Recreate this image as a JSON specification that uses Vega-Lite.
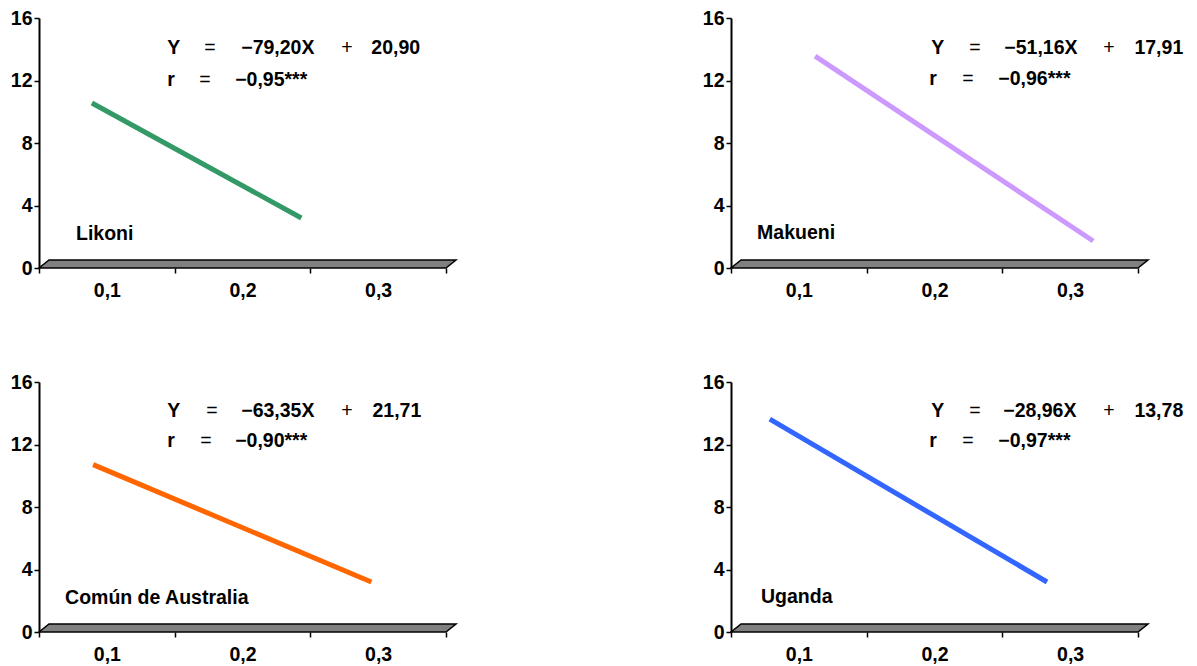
{
  "$schema": "https://vega.github.io/schema/vega-lite/v6.json",
  "background": "white",
  "padding": {"left": 10, "top": 8, "right": 5, "bottom": 5},
  "datasets": {
    "floor": [
      {"x": 0.05, "y": 0, "ytop": 0},
      {"x": 0.0574, "y": 0, "ytop": 0.512},
      {"x": 0.35, "y": 0, "ytop": 0.512},
      {"x": 0.3574, "y": 0.512, "ytop": 0.512}
    ],
    "lines": [
      {"panel": "Likoni", "x": 0.089, "y": 10.56},
      {"panel": "Likoni", "x": 0.2434, "y": 3.2},
      {"panel": "Makueni", "x": 0.112, "y": 13.56},
      {"panel": "Makueni", "x": 0.317, "y": 1.73},
      {"panel": "Australia", "x": 0.0899, "y": 10.71},
      {"panel": "Australia", "x": 0.295, "y": 3.2},
      {"panel": "Uganda", "x": 0.0786, "y": 13.62},
      {"panel": "Uganda", "x": 0.283, "y": 3.2}
    ],
    "labels": [
      {"panel": "Likoni", "kind": "b", "x": 0.1445, "y": 13.7, "text": "Y"},
      {"panel": "Likoni", "kind": "o", "x": 0.1718, "y": 13.7, "text": "="},
      {"panel": "Likoni", "kind": "b", "x": 0.1991, "y": 13.7, "text": "−79,20X"},
      {"panel": "Likoni", "kind": "o", "x": 0.2729, "y": 13.7, "text": "+"},
      {"panel": "Likoni", "kind": "b", "x": 0.295, "y": 13.7, "text": "20,90"},
      {"panel": "Likoni", "kind": "b", "x": 0.1445, "y": 11.65, "text": "r"},
      {"panel": "Likoni", "kind": "o", "x": 0.1681, "y": 11.65, "text": "="},
      {"panel": "Likoni", "kind": "b", "x": 0.1946, "y": 11.65, "text": "−0,95***"},
      {"panel": "Likoni", "kind": "b", "x": 0.0773, "y": 1.8, "text": "Likoni"},
      {"panel": "Makueni", "kind": "b", "x": 0.1976, "y": 13.7, "text": "Y"},
      {"panel": "Makueni", "kind": "o", "x": 0.2256, "y": 13.7, "text": "="},
      {"panel": "Makueni", "kind": "b", "x": 0.2515, "y": 13.7, "text": "−51,16X"},
      {"panel": "Makueni", "kind": "o", "x": 0.3245, "y": 13.7, "text": "+"},
      {"panel": "Makueni", "kind": "b", "x": 0.3474, "y": 13.7, "text": "17,91"},
      {"panel": "Makueni", "kind": "b", "x": 0.1961, "y": 11.71, "text": "r"},
      {"panel": "Makueni", "kind": "o", "x": 0.2205, "y": 11.71, "text": "="},
      {"panel": "Makueni", "kind": "b", "x": 0.2471, "y": 11.71, "text": "−0,96***"},
      {"panel": "Makueni", "kind": "b", "x": 0.0692, "y": 1.85, "text": "Makueni"},
      {"panel": "Australia", "kind": "b", "x": 0.1445, "y": 13.75, "text": "Y"},
      {"panel": "Australia", "kind": "o", "x": 0.1732, "y": 13.75, "text": "="},
      {"panel": "Australia", "kind": "b", "x": 0.1991, "y": 13.75, "text": "−63,35X"},
      {"panel": "Australia", "kind": "o", "x": 0.2729, "y": 13.75, "text": "+"},
      {"panel": "Australia", "kind": "b", "x": 0.2958, "y": 13.75, "text": "21,71"},
      {"panel": "Australia", "kind": "b", "x": 0.1445, "y": 11.82, "text": "r"},
      {"panel": "Australia", "kind": "o", "x": 0.1688, "y": 11.82, "text": "="},
      {"panel": "Australia", "kind": "b", "x": 0.1946, "y": 11.82, "text": "−0,90***"},
      {"panel": "Australia", "kind": "b", "x": 0.0692, "y": 1.8, "text": "Común de Australia"},
      {"panel": "Uganda", "kind": "b", "x": 0.1976, "y": 13.75, "text": "Y"},
      {"panel": "Uganda", "kind": "o", "x": 0.2256, "y": 13.75, "text": "="},
      {"panel": "Uganda", "kind": "b", "x": 0.2507, "y": 13.75, "text": "−28,96X"},
      {"panel": "Uganda", "kind": "o", "x": 0.3245, "y": 13.75, "text": "+"},
      {"panel": "Uganda", "kind": "b", "x": 0.3474, "y": 13.75, "text": "13,78"},
      {"panel": "Uganda", "kind": "b", "x": 0.1961, "y": 11.82, "text": "r"},
      {"panel": "Uganda", "kind": "o", "x": 0.2205, "y": 11.82, "text": "="},
      {"panel": "Uganda", "kind": "b", "x": 0.2471, "y": 11.82, "text": "−0,97***"},
      {"panel": "Uganda", "kind": "b", "x": 0.0721, "y": 1.86, "text": "Uganda"}
    ]
  },
  "columns": 2,
  "spacing": {"row": 114, "column": 275},
  "bounds": "flush",
  "concat": [
    {
      "width": 417, "height": 250,
      "encoding": {
        "x": {"field": "x", "type": "quantitative", "scale": {"domain": [0.05, 0.3574], "nice": false, "zero": false},
          "axis": {"values": [0.05, 0.1, 0.15, 0.2, 0.25, 0.3, 0.35], "domain": false, "tickSize": 5, "tickWidth": 1.5, "tickColor": "black",
            "tickOpacity": {"condition": {"test": "datum.value == 0.1 || datum.value == 0.2 || datum.value == 0.3", "value": 0}, "value": 1},
            "labelExpr": "datum.value == 0.1 ? '0,1' : datum.value == 0.2 ? '0,2' : datum.value == 0.3 ? '0,3' : ''", "labelPadding": 8, "labelBaseline": "top"}},
        "y": {"field": "y", "type": "quantitative", "scale": {"domain": [0, 16], "nice": false},
          "axis": {"values": [0, 4, 8, 12, 16], "domainColor": "black", "domainWidth": 2, "tickColor": "black", "tickWidth": 1.5, "tickSize": 5, "labelPadding": 2}}
      },
      "layer": [
        {"data": {"name": "floor"}, "mark": {"type": "area", "color": "#808080", "stroke": "black", "strokeWidth": 1.5}, "encoding": {"y2": {"field": "ytop"}}},
        {"data": {"name": "lines"}, "transform": [{"filter": "datum.panel == 'Likoni'"}], "mark": {"type": "line", "color": "#339966", "strokeWidth": 5}},
        {"data": {"name": "labels"}, "transform": [{"filter": "datum.panel == 'Likoni' && datum.kind == 'b'"}], "mark": {"type": "text", "align": "left", "baseline": "alphabetic", "font": "Liberation Sans", "fontWeight": "bold", "fontSize": 19.5, "color": "black"}, "encoding": {"text": {"field": "text"}}},
        {"data": {"name": "labels"}, "transform": [{"filter": "datum.panel == 'Likoni' && datum.kind == 'o'"}], "mark": {"type": "text", "align": "left", "baseline": "alphabetic", "font": "Liberation Sans", "fontWeight": "normal", "fontSize": 19.5, "color": "black"}, "encoding": {"text": {"field": "text"}}}
      ]
    },
    {
      "width": 417, "height": 250,
      "encoding": {
        "x": {"field": "x", "type": "quantitative", "scale": {"domain": [0.05, 0.3574], "nice": false, "zero": false},
          "axis": {"values": [0.05, 0.1, 0.15, 0.2, 0.25, 0.3, 0.35], "domain": false, "tickSize": 5, "tickWidth": 1.5, "tickColor": "black",
            "tickOpacity": {"condition": {"test": "datum.value == 0.1 || datum.value == 0.2 || datum.value == 0.3", "value": 0}, "value": 1},
            "labelExpr": "datum.value == 0.1 ? '0,1' : datum.value == 0.2 ? '0,2' : datum.value == 0.3 ? '0,3' : ''", "labelPadding": 8, "labelBaseline": "top"}},
        "y": {"field": "y", "type": "quantitative", "scale": {"domain": [0, 16], "nice": false},
          "axis": {"values": [0, 4, 8, 12, 16], "domainColor": "black", "domainWidth": 2, "tickColor": "black", "tickWidth": 1.5, "tickSize": 5, "labelPadding": 2}}
      },
      "layer": [
        {"data": {"name": "floor"}, "mark": {"type": "area", "color": "#808080", "stroke": "black", "strokeWidth": 1.5}, "encoding": {"y2": {"field": "ytop"}}},
        {"data": {"name": "lines"}, "transform": [{"filter": "datum.panel == 'Makueni'"}], "mark": {"type": "line", "color": "#CC99FF", "strokeWidth": 5}},
        {"data": {"name": "labels"}, "transform": [{"filter": "datum.panel == 'Makueni' && datum.kind == 'b'"}], "mark": {"type": "text", "align": "left", "baseline": "alphabetic", "font": "Liberation Sans", "fontWeight": "bold", "fontSize": 19.5, "color": "black"}, "encoding": {"text": {"field": "text"}}},
        {"data": {"name": "labels"}, "transform": [{"filter": "datum.panel == 'Makueni' && datum.kind == 'o'"}], "mark": {"type": "text", "align": "left", "baseline": "alphabetic", "font": "Liberation Sans", "fontWeight": "normal", "fontSize": 19.5, "color": "black"}, "encoding": {"text": {"field": "text"}}}
      ]
    },
    {
      "width": 417, "height": 250,
      "encoding": {
        "x": {"field": "x", "type": "quantitative", "scale": {"domain": [0.05, 0.3574], "nice": false, "zero": false},
          "axis": {"values": [0.05, 0.1, 0.15, 0.2, 0.25, 0.3, 0.35], "domain": false, "tickSize": 5, "tickWidth": 1.5, "tickColor": "black",
            "tickOpacity": {"condition": {"test": "datum.value == 0.1 || datum.value == 0.2 || datum.value == 0.3", "value": 0}, "value": 1},
            "labelExpr": "datum.value == 0.1 ? '0,1' : datum.value == 0.2 ? '0,2' : datum.value == 0.3 ? '0,3' : ''", "labelPadding": 8, "labelBaseline": "top"}},
        "y": {"field": "y", "type": "quantitative", "scale": {"domain": [0, 16], "nice": false},
          "axis": {"values": [0, 4, 8, 12, 16], "domainColor": "black", "domainWidth": 2, "tickColor": "black", "tickWidth": 1.5, "tickSize": 5, "labelPadding": 2}}
      },
      "layer": [
        {"data": {"name": "floor"}, "mark": {"type": "area", "color": "#808080", "stroke": "black", "strokeWidth": 1.5}, "encoding": {"y2": {"field": "ytop"}}},
        {"data": {"name": "lines"}, "transform": [{"filter": "datum.panel == 'Australia'"}], "mark": {"type": "line", "color": "#FF6600", "strokeWidth": 5}},
        {"data": {"name": "labels"}, "transform": [{"filter": "datum.panel == 'Australia' && datum.kind == 'b'"}], "mark": {"type": "text", "align": "left", "baseline": "alphabetic", "font": "Liberation Sans", "fontWeight": "bold", "fontSize": 19.5, "color": "black"}, "encoding": {"text": {"field": "text"}}},
        {"data": {"name": "labels"}, "transform": [{"filter": "datum.panel == 'Australia' && datum.kind == 'o'"}], "mark": {"type": "text", "align": "left", "baseline": "alphabetic", "font": "Liberation Sans", "fontWeight": "normal", "fontSize": 19.5, "color": "black"}, "encoding": {"text": {"field": "text"}}}
      ]
    },
    {
      "width": 417, "height": 250,
      "encoding": {
        "x": {"field": "x", "type": "quantitative", "scale": {"domain": [0.05, 0.3574], "nice": false, "zero": false},
          "axis": {"values": [0.05, 0.1, 0.15, 0.2, 0.25, 0.3, 0.35], "domain": false, "tickSize": 5, "tickWidth": 1.5, "tickColor": "black",
            "tickOpacity": {"condition": {"test": "datum.value == 0.1 || datum.value == 0.2 || datum.value == 0.3", "value": 0}, "value": 1},
            "labelExpr": "datum.value == 0.1 ? '0,1' : datum.value == 0.2 ? '0,2' : datum.value == 0.3 ? '0,3' : ''", "labelPadding": 8, "labelBaseline": "top"}},
        "y": {"field": "y", "type": "quantitative", "scale": {"domain": [0, 16], "nice": false},
          "axis": {"values": [0, 4, 8, 12, 16], "domainColor": "black", "domainWidth": 2, "tickColor": "black", "tickWidth": 1.5, "tickSize": 5, "labelPadding": 2}}
      },
      "layer": [
        {"data": {"name": "floor"}, "mark": {"type": "area", "color": "#808080", "stroke": "black", "strokeWidth": 1.5}, "encoding": {"y2": {"field": "ytop"}}},
        {"data": {"name": "lines"}, "transform": [{"filter": "datum.panel == 'Uganda'"}], "mark": {"type": "line", "color": "#3366FF", "strokeWidth": 5}},
        {"data": {"name": "labels"}, "transform": [{"filter": "datum.panel == 'Uganda' && datum.kind == 'b'"}], "mark": {"type": "text", "align": "left", "baseline": "alphabetic", "font": "Liberation Sans", "fontWeight": "bold", "fontSize": 19.5, "color": "black"}, "encoding": {"text": {"field": "text"}}},
        {"data": {"name": "labels"}, "transform": [{"filter": "datum.panel == 'Uganda' && datum.kind == 'o'"}], "mark": {"type": "text", "align": "left", "baseline": "alphabetic", "font": "Liberation Sans", "fontWeight": "normal", "fontSize": 19.5, "color": "black"}, "encoding": {"text": {"field": "text"}}}
      ]
    }
  ],
  "config": {
    "view": {"stroke": null},
    "axis": {"title": null, "grid": false, "labelFont": "Liberation Sans", "labelFontWeight": "bold", "labelFontSize": 19.5, "labelColor": "black"}
  }
}
